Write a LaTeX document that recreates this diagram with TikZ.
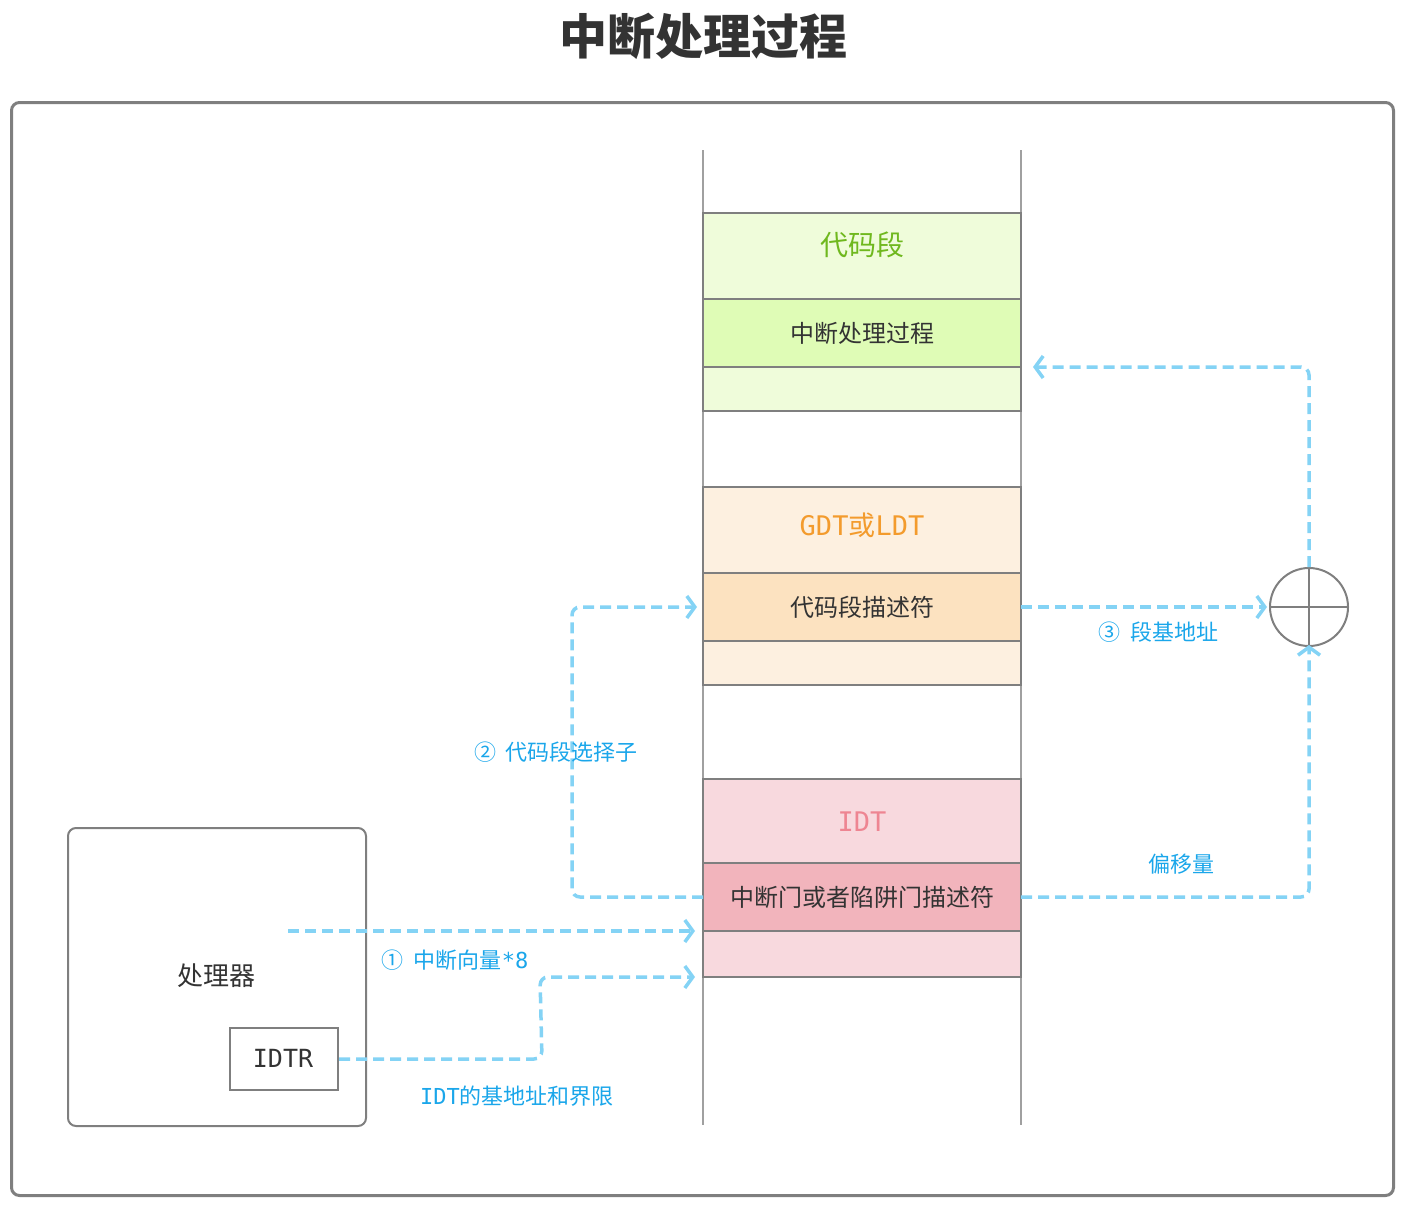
\documentclass[tikz,border=0pt]{standalone}
\usepackage{fontspec}
\setmainfont{Noto Sans CJK SC}
\newfontfamily\monof{DejaVu Sans Mono}
\usetikzlibrary{arrows.meta}
\definecolor{framegray}{HTML}{7F7F7F}
\definecolor{axisgray}{HTML}{A0A0A0}
\definecolor{txtdark}{HTML}{333333}
\definecolor{glight}{HTML}{EFFCDA}
\definecolor{gmid}{HTML}{DFFCB6}
\definecolor{gtext}{HTML}{6FB81E}
\definecolor{olight}{HTML}{FDF0E0}
\definecolor{omid}{HTML}{FCE2C0}
\definecolor{otext}{HTML}{F39B2D}
\definecolor{plight}{HTML}{F8D9DE}
\definecolor{pmid}{HTML}{F2B4BC}
\definecolor{ptext}{HTML}{EE8592}
\definecolor{bline}{HTML}{84D3F5}
\definecolor{btext}{HTML}{1AA6EA}
\begin{document}
\begin{tikzpicture}[x=1pt,y=-1pt,
  row/.style={draw=framegray,line width=2pt,minimum width=318pt,anchor=north west,inner sep=0pt,outer sep=0pt},
  maintext/.style={text=txtdark,font=\fontsize{24}{28}\selectfont,inner sep=0pt},
  bluelabel/.style={text=btext,font=\fontsize{22}{26}\selectfont,inner sep=0pt},
  conn/.style={draw=bline,line width=3.5pt,dash pattern=on 11pt off 6pt,rounded corners=8pt,
    -{Straight Barb[length=8pt,width=22pt,line width=3.5pt]}}
]
\useasboundingbox (0,0) rectangle (1405,1207);
% title
\node[text=txtdark,font=\fontsize{48}{53}\selectfont\bfseries,inner sep=0pt] (title) at (703,36) {中断处理过程};
% outer frame
\node[draw=framegray,line width=3pt,rounded corners=8pt,minimum width=1382pt,minimum height=1093pt,anchor=north west,inner sep=0pt] (frame) at (10,101) {};
% axes
\coordinate (la) at (703,150); \coordinate (lb) at (703,1125);
\coordinate (ra) at (1021,150); \coordinate (rb) at (1021,1125);
\draw[axisgray,line width=1.5pt] (la) -- (lb);
\draw[axisgray,line width=1.5pt] (ra) -- (rb);
% code segment
\node[row,fill=glight,minimum height=86pt] (cs1) at (703,213) {};
\node[row,fill=gmid,minimum height=68pt] (cs2) at (703,299) {};
\node[row,fill=glight,minimum height=44pt] (cs3) at (703,367) {};
\node[text=gtext,font=\fontsize{28}{32}\selectfont,inner sep=0pt] (cst) at (862,245) {代码段};
\node[maintext] (isr) at (862,333) {中断处理过程};
% GDT
\node[row,fill=olight,minimum height=86pt] (gd1) at (703,487) {};
\node[row,fill=omid,minimum height=68pt] (csd) at (703,573) {};
\node[row,fill=olight,minimum height=44pt] (gd3) at (703,641) {};
\node[text=otext,font=\fontsize{27}{31}\selectfont,inner sep=0pt] (gdtt) at (862,525) {{\monof GDT}或{\monof LDT}};
\node[maintext] (csdt) at (862,607) {代码段描述符};
% IDT
\node[row,fill=plight,minimum height=84pt] (id1) at (703,779) {};
\node[row,fill=pmid,minimum height=68pt] (idg) at (703,863) {};
\node[row,fill=plight,minimum height=46pt] (id3) at (703,931) {};
\node[text=ptext,font=\fontsize{27}{31}\selectfont\monof,inner sep=0pt] (idtt) at (862,822) {IDT};
\node[maintext] (idgt) at (862,897) {中断门或者陷阱门描述符};
% processor
\node[draw=framegray,line width=2pt,rounded corners=8pt,minimum width=298pt,minimum height=298pt,anchor=north west,inner sep=0pt] (cpu) at (67,827) {};
\node[text=txtdark,font=\fontsize{26}{30}\selectfont,inner sep=0pt] (cput) at (216,976) {处理器};
\node[draw=framegray,line width=2pt,minimum width=108pt,minimum height=62pt,anchor=north west,inner sep=0pt] (idtr) at (229,1027) {};
\node[text=txtdark,font=\fontsize{25}{29}\selectfont\monof,inner sep=0pt] (idtrt) at (283,1058) {IDTR};
% adder
\node[draw=framegray,line width=2pt,circle,minimum size=78pt,inner sep=0pt] (adder) at (1309,607) {};
\draw[framegray,line width=2pt] (adder.north) -- (adder.south);
\draw[framegray,line width=2pt] (adder.west) -- (adder.east);
% connectors
\coordinate (vecsrc) at (288,931);
\draw[conn] (vecsrc) -- ([xshift=-8pt]id3.north west);
\draw[conn] (idtr.east) -- ++(203,0) -- (540,977) -- ([xshift=-8pt]id3.south west);
\draw[conn] (idg.west) -- (572,897) -- (572,607) -- ([xshift=-6pt]csd.west);
\draw[conn] (csd.east) -- ([xshift=-2pt]adder.west);
\draw[conn] (idg.east) -- (adder.center |- idg.east) -- ([yshift=2pt]adder.south);
\draw[conn] (adder.north) -- (adder.center |- cs3.north) -- ([xshift=12pt]cs3.north east);
% labels
\node[bluelabel] (l1) at (455,960) {①\hspace{10pt}中断向量{\monof *8}};
\node[bluelabel] (l1b) at (517,1096) {{\monof IDT}的基地址和界限};
\node[bluelabel] (l2) at (556,752) {②\hspace{10pt}代码段选择子};
\node[bluelabel] (l3) at (1158,632) {③\hspace{10pt}段基地址};
\node[bluelabel] (l4) at (1181,864) {偏移量};
\end{tikzpicture}
\end{document}
